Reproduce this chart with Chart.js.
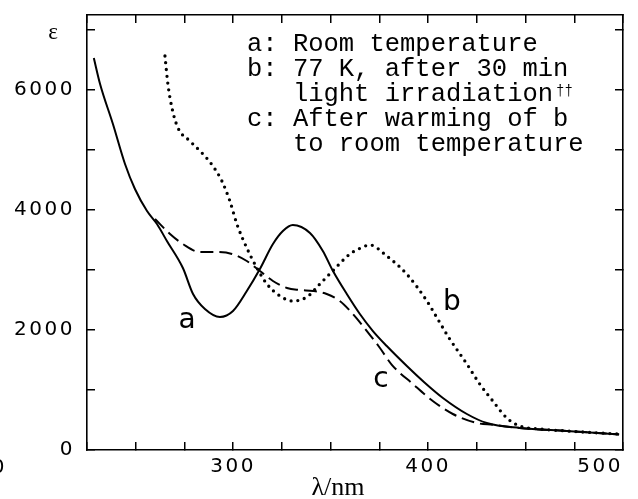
<!DOCTYPE html>
<html>
<head>
<meta charset="utf-8">
<script src="https://cdn.jsdelivr.net/npm/chart.js@4.4.1/dist/chart.umd.min.js"></script>
<style>
  html, body { margin: 0; padding: 0; background: #fff; }
  #wrap { width: 638px; height: 499px; position: relative; }
</style>
</head>
<body>
<div id="wrap"><canvas id="spectra"></canvas></div>
<script>
// curve a: room temperature (solid)
const lambdaA = [228.5, 231.7, 238.3, 244.5, 249.6, 255.8, 260.9, 266, 274.2, 279.4, 285.5, 293.2, 299.9, 307, 313.7, 320.4, 325.5, 330.6, 339.4, 346, 351.2, 358.3, 365, 371.7, 378.8, 389.1, 398, 407.6, 419.9, 430.1, 447, 471, 498];
const epsA    = [6533, 6100, 5433, 4767, 4350, 3983, 3767, 3483, 3033, 2600, 2350, 2217, 2317, 2650, 3017, 3433, 3650, 3750, 3617, 3317, 2983, 2600, 2267, 1983, 1733, 1400, 1130, 867, 600, 450, 367, 317, 260];

// curve b: 77 K after irradiation (dotted)
const lambdaB = [265, 266.5, 268.6, 271.7, 277.8, 284.5, 289.6, 294.2, 298.3, 301.9, 307, 312.2, 317.3, 324, 330.6, 337.8, 344.5, 351, 359.9, 365, 370.1, 378.8, 389, 399.4, 405, 410.5, 419.9, 426.5, 433.2, 440.4, 447, 457.3, 471, 498];
const epsB    = [6567, 6100, 5700, 5367, 5150, 4933, 4733, 4483, 4150, 3767, 3367, 3033, 2767, 2567, 2483, 2550, 2767, 2983, 3267, 3360, 3417, 3233, 2933, 2483, 2180, 1880, 1433, 1100, 817, 533, 400, 350, 317, 265];

// curve c: after warming (dashed)
const lambdaC = [259.9, 267.6, 274.2, 283, 291.7, 299.4, 307, 313.7, 320.4, 327.6, 334.2, 341, 348, 354.7, 361.4, 368.6, 375.3, 381.4, 392.2, 402.4, 412.7, 425, 433.2, 447, 471, 498];
const epsC    = [3850, 3600, 3433, 3300, 3300, 3267, 3150, 2983, 2817, 2700, 2667, 2650, 2600, 2483, 2267, 1983, 1700, 1420, 1100, 817, 600, 450, 420, 367, 317, 260];

const xTickLabels = [300, 400, 500];
const yTickValues = [0, 1000, 2000, 3000, 4000, 5000, 6000, 7000];
const yTickLabels = [0, 2000, 4000, 6000];

const legendLines = [
  "a: Room temperature",
  "b: 77 K, after 30 min",
  "   light irradiation",
  "c: After warming of b",
  "   to room temperature"
];

function toPoints(xs, ys) {
  return xs.map((x, i) => ({ x: x, y: ys[i] }));
}

function setYTicks(scale) {
  scale.ticks = yTickValues.map(v => ({ value: v }));
}

const axisGrid = { drawOnChartArea: false, tickLength: -8, color: "#000", lineWidth: 1.5 };
const axisBorder = { display: true, color: "#000", width: 1.6 };
const tickFont = { family: "DejaVu Sans", size: 20 };

// the scanned tick numbers are widely spaced
const spacedTicks = {
  id: "spacedTicks",
  beforeDraw(chart) { chart.ctx.letterSpacing = "2.5px"; }
};

const textLayer = {
  id: "textLayer",
  afterDraw(chart) {
    const ctx = chart.ctx;
    ctx.letterSpacing = "0px";
    ctx.save();
    ctx.fillStyle = "#000";

    // legend block
    ctx.font = "25.5px 'Liberation Mono'";
    ctx.textAlign = "left";
    ctx.textBaseline = "alphabetic";
    legendLines.forEach((line, i) => ctx.fillText(line, 247, 51 + i * 25));
    ctx.font = "14px 'Liberation Mono'";
    ctx.fillText("\u2020\u2020", 556, 95);

    // curve labels
    ctx.font = "28px 'DejaVu Sans'";
    ctx.textAlign = "center";
    ctx.fillText("a", 187, 328);
    ctx.fillText("b", 452, 310);
    ctx.fillText("c", 381, 387);

    // axis titles
    ctx.font = "23px 'Liberation Serif'";
    ctx.fillText("\u03b5", 53, 39);
    ctx.font = "26px 'Liberation Serif'";
    ctx.fillText("\u03bb/nm", 338, 495);

    // stray glyph at the left edge
    ctx.font = "20px 'DejaVu Sans'";
    ctx.fillText("0", -2, 473);
    ctx.restore();
  }
};

function initChart() {
  new Chart(document.getElementById("spectra"), {
    type: "line",
    data: {
      datasets: [
        {
          label: "a",
          data: toPoints(lambdaA, epsA),
          borderColor: "#000",
          borderWidth: 2,
          pointRadius: 0,
          cubicInterpolationMode: "monotone"
        },
        {
          label: "b",
          data: toPoints(lambdaB, epsB),
          borderColor: "#000",
          borderWidth: 3.3,
          borderDash: [0, 6.8],
          borderCapStyle: "round",
          pointRadius: 0,
          cubicInterpolationMode: "monotone"
        },
        {
          label: "c",
          data: toPoints(lambdaC, epsC),
          borderColor: "#000",
          borderWidth: 2,
          borderDash: [13, 6],
          pointRadius: 0,
          cubicInterpolationMode: "monotone"
        }
      ]
    },
    options: {
      responsive: true,
      maintainAspectRatio: false,
      animation: false,
      layout: { padding: { top: 15, left: 0, right: 0, bottom: 0 } },
      plugins: { legend: { display: false }, tooltip: { enabled: false } },
      scales: {
        x: {
          type: "linear", position: "bottom", min: 225, max: 500,
          ticks: {
            stepSize: 25, autoSkip: false, maxRotation: 0, align: "inner",
            padding: 13, color: "#000", font: tickFont,
            callback: v => xTickLabels.includes(v) ? String(v) : ""
          },
          grid: axisGrid, border: axisBorder,
          afterFit: s => { s.height = 49; s.paddingLeft = 0; s.paddingRight = 0; }
        },
        xTop: {
          type: "linear", position: "top", min: 225, max: 500,
          ticks: { stepSize: 25, display: false },
          grid: axisGrid, border: axisBorder,
          afterFit: s => { s.height = 0; s.paddingLeft = 0; s.paddingRight = 0; }
        },
        y: {
          type: "linear", position: "left", min: 0, max: 7250,
          afterBuildTicks: setYTicks,
          ticks: {
            autoSkip: false, padding: 20,
            color: "#000", font: tickFont,
            callback: v => yTickLabels.includes(v) ? String(v) : ""
          },
          grid: axisGrid, border: axisBorder,
          afterFit: s => { s.width = 87; s.paddingTop = 0; s.paddingBottom = 0; }
        },
        yRight: {
          type: "linear", position: "right", min: 0, max: 7250,
          afterBuildTicks: setYTicks,
          ticks: { display: false },
          grid: axisGrid, border: axisBorder,
          afterFit: s => { s.width = 15; s.paddingTop = 0; s.paddingBottom = 0; }
        }
      }
    },
    plugins: [spacedTicks, textLayer]
  });
}

window.onload = initChart;
</script>
</body>
</html>
